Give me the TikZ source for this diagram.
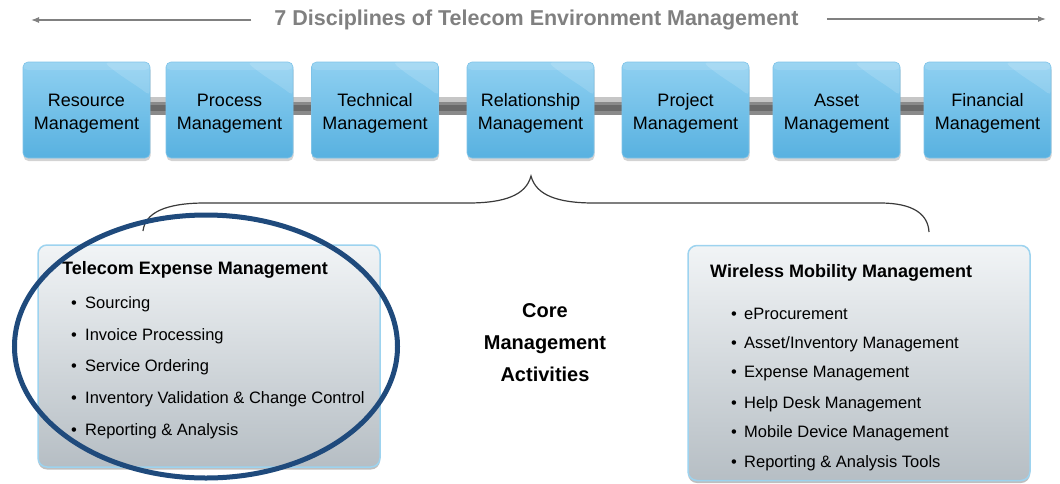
\documentclass[tikz,border=0pt]{standalone}
\usepackage{fontspec}
\setmainfont{Liberation Sans}
\usetikzlibrary{shapes.geometric,shadows,backgrounds,arrows.meta}
\definecolor{discTop}{HTML}{8FD0F1}
\definecolor{discBot}{HTML}{58B1E0}
\definecolor{discEdge}{HTML}{7FC3E8}
\definecolor{actTop}{HTML}{F1F4F6}
\definecolor{actBot}{HTML}{B6BEC4}
\definecolor{actEdge}{HTML}{9DD3EF}
\definecolor{ringBlue}{HTML}{1F4A7C}
\definecolor{titleGray}{HTML}{808080}
\definecolor{braceGray}{HTML}{3A3A3A}
\definecolor{barBase}{HTML}{8A8A8A}
\definecolor{barLight}{HTML}{C6C6C6}
\definecolor{barDark}{HTML}{6A6A6A}
\begin{document}
\begin{tikzpicture}[x=1pt,y=-1pt,
  disc/.style={rectangle, rounded corners=5pt, minimum width=127pt, minimum height=96pt,
    inner sep=0pt, top color=discTop, bottom color=discBot, draw=discEdge, line width=0.6pt,
    drop shadow={opacity=0.35, shadow xshift=0.5pt, shadow yshift=-3pt},
    path picture={\fill[white, opacity=0.14]
      ([xshift=-46pt]path picture bounding box.north east)
      .. controls ([xshift=-30pt,yshift=-14pt]path picture bounding box.north east)
      and ([xshift=-12pt,yshift=-24pt]path picture bounding box.north east)
      .. ([yshift=-34pt]path picture bounding box.north east)
      -- (path picture bounding box.north east) -- cycle;
      \fill[white, opacity=0.12] (path picture bounding box.north west) rectangle
      ([yshift=-8pt]path picture bounding box.north east);}},
  disctext/.style={align=center, inner sep=0pt, font=\fontsize{18}{23}\selectfont},
  actbox/.style={rectangle, rounded corners=9pt, minimum width=342pt, inner sep=0pt,
    top color=actTop, bottom color=actBot, draw=actEdge, line width=1.5pt,
    drop shadow={opacity=0.5, shadow xshift=0pt, shadow yshift=-2.5pt}},
  acttitle/.style={anchor=west, inner sep=0pt, font=\fontsize{18}{22}\selectfont\bfseries},
  actitem/.style={anchor=west, inner sep=0pt, font=\fontsize{16.5}{20}\selectfont},
  topline/.style={titleGray, line width=1.2pt, -{Latex[length=8pt,width=6pt]}},
  brace/.style={braceGray, line width=1.2pt},
  ring/.style={draw=ringBlue, line width=5pt, ellipse, inner sep=0pt}
]
\useasboundingbox (0,0) rectangle (1060,483);

% title and arrows
\node[inner sep=0pt, text=titleGray, font=\fontsize{21.5}{24}\selectfont\bfseries] (title) at (536.5,20)
  {7 Disciplines of Telecom Environment Management};
\coordinate (arrL) at (31,20);
\coordinate (arrR) at (1046,19);
\draw[topline] ([xshift=-23pt]title.west) -- (arrL);
\draw[topline] ([xshift=28pt,yshift=1pt]title.east) -- (arrR);

% the seven disciplines
\node[disc, label={[disctext, yshift=-3.5pt]center:Resource\\Management}] (b1) at (86.5,110) {};
\node[disc, label={[disctext, yshift=-3.5pt]center:Process\\Management}] (b2) at (229.5,110) {};
\node[disc, label={[disctext, yshift=-3.5pt]center:Technical\\Management}] (b3) at (375,110) {};
\node[disc, label={[disctext, yshift=-3.5pt]center:Relationship\\Management}] (b4) at (530.5,110) {};
\node[disc, label={[disctext, yshift=-3.5pt]center:Project\\Management}] (b5) at (685.5,110) {};
\node[disc, label={[disctext, yshift=-3.5pt]center:Asset\\Management}] (b6) at (836.5,110) {};
\node[disc, label={[disctext, yshift=-3.5pt]center:Financial\\Management}] (b7) at (987.5,110) {};

\begin{scope}[on background layer]
\foreach \a/\b in {b1/b2,b2/b3,b3/b4,b4/b5,b5/b6,b6/b7}{
  \draw[barBase, line width=18pt] ([yshift=4pt]\a.east) -- ([yshift=4pt]\b.west);
  \draw[barLight, line width=5pt] ([yshift=10.5pt]\a.east) -- ([yshift=10.5pt]\b.west);
  \draw[barDark, line width=6pt] ([yshift=2.5pt]\a.east) -- ([yshift=2.5pt]\b.west);
}
\end{scope}

% brace
\coordinate (braceL) at (143,231);
\coordinate (braceT) at (531,176);
\coordinate (braceR) at (929,232);
\draw[brace] (braceL) .. controls (145,213) and (165,203) .. (205,203) -- (468,203)
  .. controls (505,203) and (526,195) .. (braceT)
  .. controls (536,195) and (557,203) .. (594,203) -- (880,203)
  .. controls (913,203) and (928,214) .. (braceR);

% left activity box
\node[actbox, minimum height=222pt] (tem) at (209,356) {};
\node[acttitle] (temT) at (62,270) {Telecom Expense Management};
\node[actitem] (tem1) at (71,304) {\makebox[14pt][l]{•}Sourcing};
\node[actitem] (tem2) at (71,336) {\makebox[14pt][l]{•}Invoice Processing};
\node[actitem] (tem3) at (71,367.5) {\makebox[14pt][l]{•}Service Ordering};
\node[actitem] (tem4) at (71,399.5) {\makebox[14pt][l]{•}Inventory Validation \& Change Control};
\node[actitem] (tem5) at (71,431.5) {\makebox[14pt][l]{•}Reporting \& Analysis};

% right activity box
\node[actbox, minimum height=235pt] (wmm) at (859,363) {};
\node[acttitle] (wmmT) at (710,272.5) {Wireless Mobility Management};
\node[actitem] (wmm1) at (731,314) {\makebox[13pt][l]{•}eProcurement};
\node[actitem] (wmm2) at (731,344) {\makebox[13pt][l]{•}Asset/Inventory Management};
\node[actitem] (wmm3) at (731,374) {\makebox[13pt][l]{•}Expense Management};
\node[actitem] (wmm4) at (731,404) {\makebox[13pt][l]{•}Help Desk Management};
\node[actitem] (wmm5) at (731,433.5) {\makebox[13pt][l]{•}Mobile Device Management};
\node[actitem] (wmm6) at (731,463) {\makebox[13pt][l]{•}Reporting \& Analysis Tools};

% centre label
\node[align=center, inner sep=0pt, font=\fontsize{20}{32}\selectfont\bfseries] (core) at (545,343)
  {Core\\Management\\Activities};

% highlight ring
\node[ring, minimum width=383pt, minimum height=263pt] (circ) at (206,346.5) {};
\end{tikzpicture}
\end{document}
